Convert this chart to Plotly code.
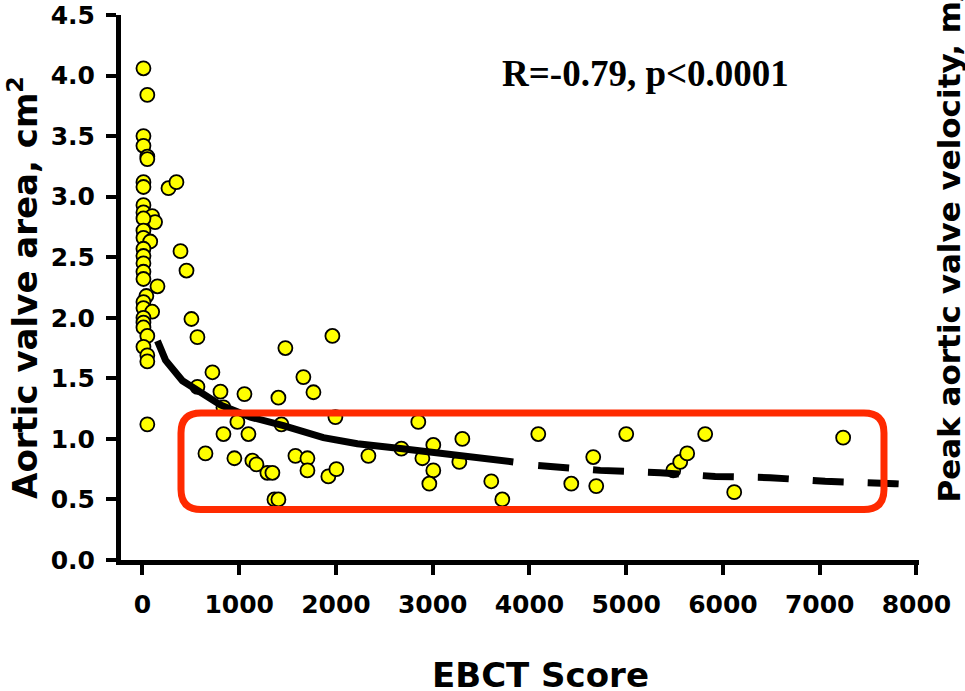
import plotly.graph_objects as go

# ---- data ----
ebct = [10, 50, 10, 10, 50, 50, 10, 10, 10, 10, 100, 130, 10, 10, 10, 80, 10, 10, 10, 10, 10,
        155, 40, 10, 10, 100, 10, 10, 10, 50, 10, 50, 50, 50,
        269, 351, 393, 455, 506, 568, 723, 568, 806,
        1963, 1477, 1054, 1405, 1663, 1767, 837,
        981, 1436, 1994, 2851, 837, 1095, 651, 950, 1136, 1178, 1291, 1343,
        1581, 1705, 1705, 1921, 2004, 1364, 1405, 2335, 2676, 3006, 2893, 3006, 2965,
        3306, 3275, 3605, 3719, 4091, 4659, 4432, 4690, 5000, 5486, 5558, 5630,
        5816, 7242, 6116]
ava = [4.06, 3.84, 3.50, 3.42, 3.33, 3.31, 3.12, 3.08, 2.93, 2.87, 2.84, 2.79, 2.82, 2.72, 2.66,
       2.63, 2.57, 2.51, 2.45, 2.38, 2.32, 2.26, 2.18, 2.13, 2.08, 2.05, 2.00, 1.96, 1.92, 1.85,
       1.76, 1.69, 1.64, 1.12,
       3.07, 3.12, 2.55, 2.39, 1.99, 1.84, 1.55, 1.43, 1.39,
       1.85, 1.75, 1.37, 1.34, 1.51, 1.385, 1.26,
       1.14, 1.12, 1.18, 1.14, 1.04, 1.04, 0.88, 0.84, 0.82, 0.79, 0.72, 0.72,
       0.86, 0.84, 0.74, 0.69, 0.75, 0.50, 0.50, 0.86, 0.92, 0.95, 0.84, 0.74, 0.63,
       1.00, 0.81, 0.65, 0.50, 1.04, 0.85, 0.63, 0.61, 1.04, 0.74, 0.81, 0.88,
       1.04, 1.01, 0.56]

fit_solid_x = [155, 238, 413, 568, 806, 1116, 1457, 1870, 2221, 2665, 3182, 3833]
fit_solid_y = [1.81, 1.65, 1.48, 1.40, 1.28, 1.18, 1.11, 1.01, 0.96, 0.92, 0.87, 0.81]
fit_dash_x = [4090, 4731, 5351, 5919, 6488, 7056, 7779, 8030]
fit_dash_y = [0.78, 0.74, 0.72, 0.69, 0.68, 0.65, 0.63, 0.62]

x_ticks = [0, 1000, 2000, 3000, 4000, 5000, 6000, 7000, 8000]
y_ticks = [0.0, 0.5, 1.0, 1.5, 2.0, 2.5, 3.0, 3.5, 4.0, 4.5]

annotation_text = "R=-0.79, p<0.0001"
x_title = "EBCT Score"
y_title = "Aortic valve area, cm<sup>2</sup>"
y2_title = "Peak aortic valve velocity, m/s"

# highlight box (data units)
box_x0, box_x1, box_y0, box_y1 = 398, 7664, 0.417, 1.213
rx, ry = 207, 0.165

W, H = 965, 691
ML, MR, MT, MB = 121, 46, 15, 131
XR = [-222, 8026]
YR = [0, 4.5]

fig = go.Figure()
fig.add_trace(go.Scatter(x=ebct, y=ava, mode="markers",
                         marker=dict(size=14, color="#FFFF00",
                                     line=dict(color="black", width=1.8)),
                         showlegend=False, cliponaxis=False))
fig.add_trace(go.Scatter(x=fit_solid_x, y=fit_solid_y, mode="lines",
                         line=dict(color="black", width=7),
                         showlegend=False, cliponaxis=False))
fig.add_trace(go.Scatter(x=fit_dash_x, y=fit_dash_y, mode="lines",
                         line=dict(color="black", width=7, dash="31px,24px"),
                         showlegend=False, cliponaxis=False))

path = (f"M {box_x0+rx},{box_y1} L {box_x1-rx},{box_y1} Q {box_x1},{box_y1} {box_x1},{box_y1-ry} "
        f"L {box_x1},{box_y0+ry} Q {box_x1},{box_y0} {box_x1-rx},{box_y0} "
        f"L {box_x0+rx},{box_y0} Q {box_x0},{box_y0} {box_x0},{box_y0+ry} "
        f"L {box_x0},{box_y1-ry} Q {box_x0},{box_y1} {box_x0+rx},{box_y1} Z")
fig.add_shape(type="path", path=path, xref="x", yref="y",
              line=dict(color="#FF2A00", width=7), layer="above")

tick_font = dict(family="DejaVu Sans", size=25, color="black", weight="bold")
xtitle_font = dict(family="DejaVu Sans", size=34, color="black", weight="bold")
ytitle_font = dict(family="DejaVu Sans", size=34, color="black", weight="bold")
y2title_font = dict(family="DejaVu Sans", size=31, color="black", weight="bold")

fig.update_xaxes(range=XR, tickvals=x_ticks, ticktext=[str(v) for v in x_ticks],
                 showline=True, linecolor="black", linewidth=5,
                 ticks="outside", ticklen=10, tickwidth=4, tickcolor="black",
                 showgrid=False, zeroline=False, tickfont=tick_font,
                 ticklabelstandoff=8, automargin=False)
fig.update_yaxes(range=YR, tickvals=y_ticks, ticktext=[f"{v:.1f}" for v in y_ticks],
                 showline=True, linecolor="black", linewidth=5,
                 ticks="outside", ticklen=10, tickwidth=4, tickcolor="black",
                 showgrid=False, zeroline=False, tickfont=tick_font,
                 ticklabelstandoff=6, automargin=False,
                 title=dict(text=y_title, font=ytitle_font, standoff=4))

pw = W - ML - MR
ph = H - MT - MB
def px_to_paper_x(px):
    return (px - ML) / pw
def px_to_paper_y(py):
    return (H - MB - py) / ph

fig.add_annotation(text=x_title, xref="paper", yref="paper",
                   x=px_to_paper_x(540), y=px_to_paper_y(675),
                   showarrow=False, xanchor="center", yanchor="middle",
                   font=xtitle_font)
fig.add_annotation(text=annotation_text, xref="paper", yref="paper",
                   x=px_to_paper_x(645), y=px_to_paper_y(73),
                   showarrow=False, xanchor="center", yanchor="middle",
                   font=dict(family="Liberation Serif", size=37, color="black", weight="bold"))
fig.add_annotation(text=y2_title, xref="paper", yref="paper",
                   x=px_to_paper_x(949), y=px_to_paper_y(505),
                   showarrow=False, xanchor="center", yanchor="bottom", textangle=-90,
                   font=y2title_font)

fig.update_layout(width=W, height=H, margin=dict(l=ML, r=MR, t=MT, b=MB, autoexpand=False),
                  plot_bgcolor="white", paper_bgcolor="white")

fig.write_html("out.html", config={"displayModeBar": False},
               post_script="document.body.style.margin='0px';document.body.style.overflow='hidden';")
